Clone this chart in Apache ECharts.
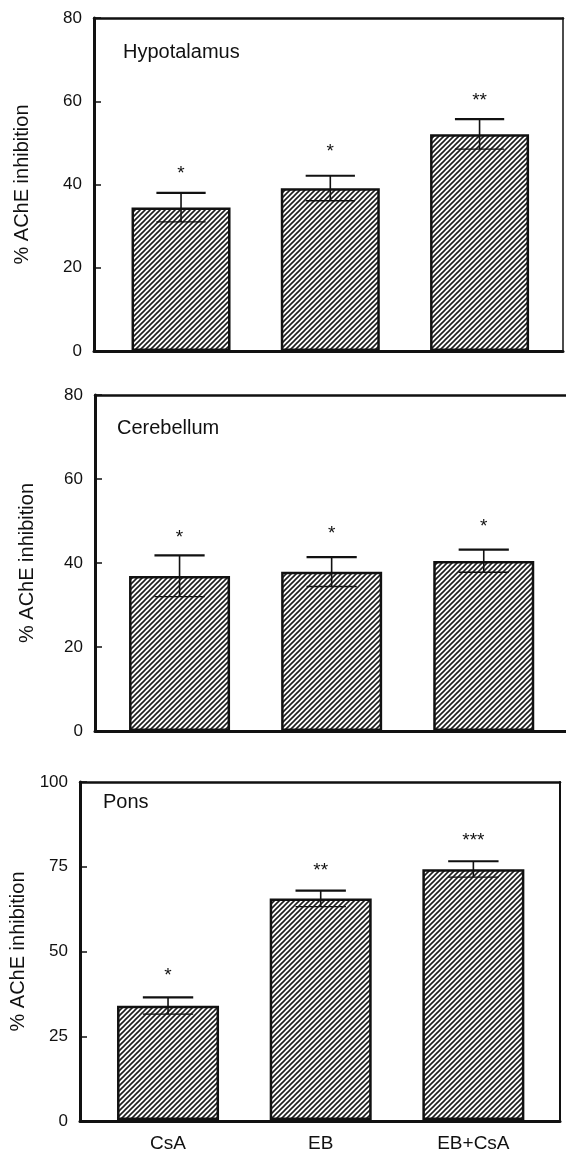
<!DOCTYPE html>
<html>
<head>
<meta charset="utf-8">
<script src="https://cdn.jsdelivr.net/npm/echarts@6/dist/echarts.min.js"></script>
<style>
html,body{margin:0;padding:0;background:#fff;}
#chart{width:566px;height:1153px;}
</style>
</head>
<body>
<div id="chart"></div>
<script>
// ---- data ----
const categories = ['CsA', 'EB', 'EB+CsA'];
const panelTitles = ['Hypotalamus', 'Cerebellum', 'Pons'];
const yAxisTitle = '% AChE inhibition';

const hypoMean = [34.5, 39.1, 52.1];
const hypoErr = [3.5, 3.0, 3.6];
const hypoStars = ['*', '*', '**'];
const hypoStarY = [43.7, 49.1, 61.3];

const cereMean = [36.9, 37.9, 40.5];
const cereErr = [4.9, 3.5, 2.7];
const cereStars = ['*', '*', '*'];
const cereStarY = [47.1, 48.1, 49.8];

const ponsMean = [33.8, 65.5, 74.2];
const ponsErr = [2.5, 2.35, 2.35];
const ponsStars = ['*', '**', '***'];
const ponsStarY = [44.1, 75.1, 84.0];

const ticksA = [0, 20, 40, 60, 80];
const ticksB = [0, 25, 50, 75, 100];

// ---- hatch pattern ----
function makeHatch() {
  const s = 5;
  const c = document.createElement('canvas');
  c.width = s; c.height = s;
  const g = c.getContext('2d');
  g.fillStyle = '#ffffff';
  g.fillRect(0, 0, s, s);
  g.strokeStyle = '#1e1e1e';
  g.lineWidth = 1.6;
  g.beginPath();
  g.moveTo(-1, s + 1); g.lineTo(s + 1, -1);
  g.moveTo(-1, 1); g.lineTo(1, -1);
  g.moveTo(s - 1, s + 1); g.lineTo(s + 1, s - 1);
  g.stroke();
  return c;
}
const hatch = makeHatch();

const INK = '#111';
const FONT = '"Liberation Sans", Arial, Helvetica, sans-serif';

// layout of each panel (frame box + bar band area)
const panels = [
  { mean: hypoMean, err: hypoErr, stars: hypoStars, starY: hypoStarY, ticks: ticksA,
    frame: { left: 94, top: 18, width: 469, height: 333 }, showRight: true, rightW: 1.5,
    bars: { left: 106.4, width: 447.8 }, barWidth: 99, titleLeft: 123, titleTop: 42, nameGap: 62, xLabels: false },
  { mean: cereMean, err: cereErr, stars: cereStars, starY: cereStarY, ticks: ticksA,
    frame: { left: 95, top: 395, width: 490, height: 336 }, showRight: false, rightW: 1.5,
    bars: { left: 103.5, width: 456.3 }, barWidth: 101, titleLeft: 117, titleTop: 418, nameGap: 58, xLabels: false },
  { mean: ponsMean, err: ponsErr, stars: ponsStars, starY: ponsStarY, ticks: ticksB,
    frame: { left: 80, top: 782, width: 480, height: 339 }, showRight: true, rightW: 2,
    bars: { left: 91.7, width: 458 }, barWidth: 102, titleLeft: 103, titleTop: 792, nameGap: 47, xLabels: true }
];

const grid = [], xAxis = [], yAxis = [], series = [], title = [];

panels.forEach((p, i) => {
  const gFrame = grid.length;
  grid.push({ left: p.frame.left, top: p.frame.top, width: p.frame.width, height: p.frame.height });
  const gBars = grid.length;
  grid.push({ left: p.bars.left, top: p.frame.top, width: p.bars.width, height: p.frame.height });

  const ymin = p.ticks[0], ymax = p.ticks[p.ticks.length - 1];
  const step = p.ticks[1] - p.ticks[0];

  // frame axes
  xAxis.push({ gridIndex: gFrame, type: 'value', min: 0, max: 1, position: 'bottom',
    axisLine: { show: true, onZero: false, lineStyle: { color: INK, width: 3 } },
    axisTick: { show: false }, axisLabel: { show: false }, splitLine: { show: false } });
  xAxis.push({ gridIndex: gFrame, type: 'value', min: 0, max: 1, position: 'top',
    axisLine: { show: true, onZero: false, lineStyle: { color: INK, width: 2.5 } },
    axisTick: { show: false }, axisLabel: { show: false }, splitLine: { show: false } });
  yAxis.push({ gridIndex: gFrame, type: 'value', min: ymin, max: ymax, interval: step, position: 'left',
    name: yAxisTitle, nameLocation: 'middle', nameGap: p.nameGap,
    nameTextStyle: { fontSize: 20, color: INK, fontFamily: FONT },
    axisLine: { show: true, onZero: false, lineStyle: { color: INK, width: 3 } },
    axisTick: { show: true, inside: true, length: 7, lineStyle: { color: INK, width: 1.5 } },
    axisLabel: { show: true, margin: 12, fontSize: 17, color: INK, fontFamily: FONT },
    splitLine: { show: false } });
  yAxis.push({ gridIndex: gFrame, type: 'value', min: ymin, max: ymax, position: 'right',
    axisLine: { show: p.showRight, onZero: false, lineStyle: { color: INK, width: p.rightW } },
    axisTick: { show: false }, axisLabel: { show: false }, splitLine: { show: false } });

  // bar axes
  const xBar = xAxis.length;
  xAxis.push({ gridIndex: gBars, type: 'category', data: categories, position: 'bottom',
    axisLine: { show: false }, axisTick: { show: false },
    axisLabel: { show: p.xLabels, margin: 14, fontSize: 19, color: INK, fontFamily: FONT },
    splitLine: { show: false } });
  const yBar = yAxis.length;
  yAxis.push({ gridIndex: gBars, type: 'value', min: ymin, max: ymax, interval: step, show: false });

  series.push({
    type: 'bar', xAxisIndex: xBar, yAxisIndex: yBar, barWidth: p.barWidth,
    data: p.mean,
    itemStyle: { color: { image: hatch, repeat: 'repeat' }, borderColor: INK, borderWidth: 2.5 },
    z: 2, silent: true, animation: false
  });

  series.push({
    type: 'custom', xAxisIndex: xBar, yAxisIndex: yBar, z: 5, silent: true, animation: false,
    data: p.mean.map((m, k) => [k, m - p.err[k], m + p.err[k]]),
    renderItem: function (params, api) {
      const k = api.value(0);
      const lo = api.coord([k, api.value(1)]);
      const hi = api.coord([k, api.value(2)]);
      const hw = api.size([1, 0])[0] * 0.165;
      return { type: 'group', children: [
        { type: 'line', shape: { x1: hi[0], y1: hi[1], x2: lo[0], y2: lo[1] }, style: { stroke: INK, lineWidth: 1.6 } },
        { type: 'line', shape: { x1: hi[0] - hw, y1: hi[1], x2: hi[0] + hw, y2: hi[1] }, style: { stroke: INK, lineWidth: 2.2 } },
        { type: 'line', shape: { x1: lo[0] - hw, y1: lo[1], x2: lo[0] + hw, y2: lo[1] }, style: { stroke: INK, lineWidth: 1.3 } }
      ] };
    }
  });

  series.push({
    type: 'custom', xAxisIndex: xBar, yAxisIndex: yBar, z: 6, silent: true, animation: false,
    data: p.starY.map((v, k) => [k, v, p.stars[k]]),
    renderItem: function (params, api) {
      const k = api.value(0);
      const pt = api.coord([k, api.value(1)]);
      return { type: 'text', x: pt[0], y: pt[1] + 5,
        style: { text: p.stars[k], fill: INK, font: '19px ' + FONT, textAlign: 'center', textVerticalAlign: 'middle' } };
    }
  });

  title.push({ text: panelTitles[i], left: p.titleLeft, top: p.titleTop, padding: 0,
    textStyle: { fontSize: 20, fontWeight: 'normal', color: INK, fontFamily: FONT } });
});

const chart = echarts.init(document.getElementById('chart'), null, { renderer: 'canvas' });
chart.setOption({
  animation: false,
  backgroundColor: '#fff',
  title: title,
  grid: grid,
  xAxis: xAxis,
  yAxis: yAxis,
  series: series
});
</script>
</body>
</html>
